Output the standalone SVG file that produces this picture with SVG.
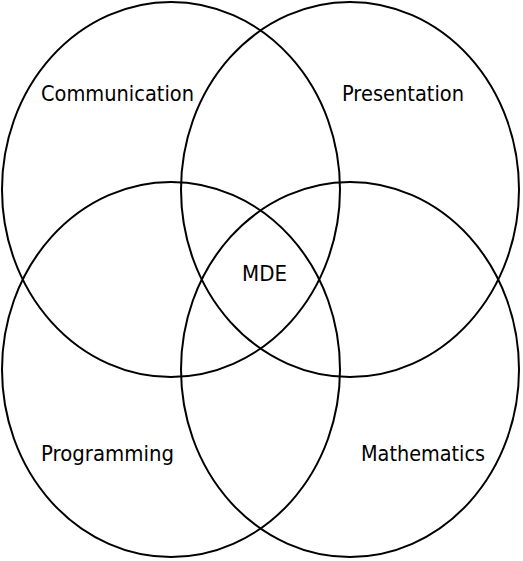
<svg xmlns="http://www.w3.org/2000/svg" width="523" height="561" viewBox="0 0 523 561">
<style>
.c{fill:none;stroke:#000;stroke-width:2}
.t{font-family:Tahoma,"DejaVu Sans",Verdana,sans-serif;font-size:21px;fill:#000}
</style>
<rect width="523" height="561" fill="#fff"/>
<g id="communication"><ellipse class="c" cx="171" cy="189.5" rx="169" ry="187.5"/><text class="t" x="41" y="101" textLength="153" lengthAdjust="spacingAndGlyphs">Communication</text></g>
<g id="presentation"><ellipse class="c" cx="350" cy="189.5" rx="169" ry="187.5"/><text class="t" x="342" y="101" textLength="122" lengthAdjust="spacingAndGlyphs">Presentation</text></g>
<g id="programming"><ellipse class="c" cx="171" cy="369.5" rx="169" ry="187.5"/><text class="t" x="41" y="461" textLength="133" lengthAdjust="spacingAndGlyphs">Programming</text></g>
<g id="mathematics"><ellipse class="c" cx="350" cy="369.5" rx="169" ry="187.5"/><text class="t" x="361" y="461" textLength="124" lengthAdjust="spacingAndGlyphs">Mathematics</text></g>
<g id="mde"><text class="t" x="242" y="281" textLength="45" lengthAdjust="spacingAndGlyphs">MDE</text></g>
</svg>
